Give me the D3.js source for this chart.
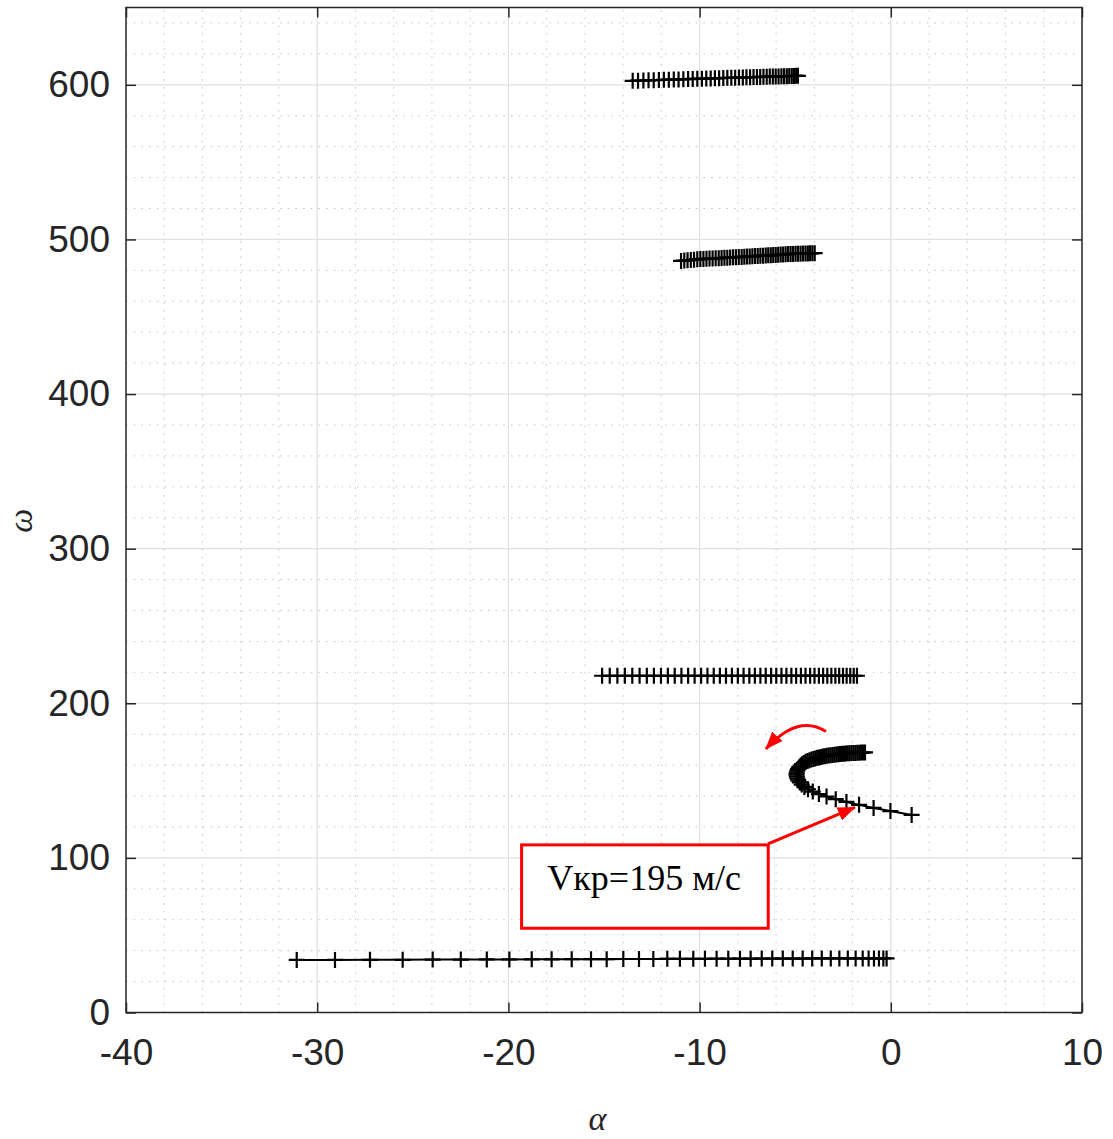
<!DOCTYPE html>
<html>
<head>
<meta charset="utf-8">
<script src="https://cdn.jsdelivr.net/npm/d3@7"></script>
<style>
body { margin: 0; background: #fff; }
</style>
</head>
<body>
<div id="chart"></div>
<script>
// tick labels
const xTicks = [-40, -30, -20, -10, 0, 10];
const yTicks = [0, 100, 200, 300, 400, 500, 600];

// modes: [alpha, omega]
const mode1 = [
    [-13.50, 602.6], [-13.22, 602.7], [-12.94, 602.8], [-12.67, 602.9], [-12.40, 603.0],
    [-12.13, 603.1], [-11.87, 603.2], [-11.61, 603.3], [-11.35, 603.4], [-11.10, 603.5],
    [-10.85, 603.6], [-10.60, 603.7], [-10.36, 603.8], [-10.12, 603.9], [-9.88, 603.95],
    [-9.65, 604.0], [-9.42, 604.1], [-9.20, 604.2], [-8.98, 604.3], [-8.76, 604.4],
    [-8.55, 604.5], [-8.34, 604.55], [-8.14, 604.6], [-7.94, 604.7], [-7.74, 604.8],
    [-7.55, 604.85], [-7.36, 604.9], [-7.18, 605.0], [-7.00, 605.05], [-6.83, 605.1],
    [-6.66, 605.2], [-6.49, 605.25], [-6.33, 605.3], [-6.17, 605.35], [-6.02, 605.4],
    [-5.87, 605.45], [-5.72, 605.5], [-5.58, 605.55], [-5.44, 605.6], [-5.31, 605.65],
    [-5.18, 605.7], [-5.06, 605.75], [-4.95, 605.8], [-4.86, 605.8]
];

const mode2 = [
    [-10.97, 486.1], [-10.80, 486.3], [-10.63, 486.5], [-10.46, 486.7], [-10.29, 486.9],
    [-10.12, 487.1], [-9.96, 487.3], [-9.80, 487.4], [-9.64, 487.5], [-9.48, 487.6],
    [-9.32, 487.7], [-9.16, 487.8], [-9.00, 487.9], [-8.85, 488.0], [-8.70, 488.1],
    [-8.55, 488.2], [-8.40, 488.3], [-8.25, 488.4], [-8.10, 488.5], [-7.95, 488.6],
    [-7.80, 488.7], [-7.66, 488.8], [-7.52, 488.9], [-7.38, 489.0], [-7.24, 489.1],
    [-7.10, 489.2], [-6.96, 489.3], [-6.82, 489.4], [-6.68, 489.5], [-6.54, 489.6],
    [-6.41, 489.7], [-6.28, 489.8], [-6.15, 489.9], [-6.02, 490.0], [-5.89, 490.1],
    [-5.76, 490.2], [-5.63, 490.3], [-5.50, 490.4], [-5.37, 490.5], [-5.24, 490.6],
    [-5.11, 490.65], [-4.98, 490.7], [-4.85, 490.75], [-4.72, 490.8], [-4.59, 490.85],
    [-4.46, 490.9], [-4.34, 490.95], [-4.22, 491.0], [-4.10, 491.05], [-3.98, 491.1]
];

const mode3 = [
    [-15.10, 217.8], [-14.70, 217.8], [-14.30, 217.8], [-13.91, 217.8], [-13.52, 217.8],
    [-13.14, 217.8], [-12.76, 217.8], [-12.39, 217.8], [-12.02, 217.8], [-11.66, 217.8],
    [-11.30, 217.8], [-10.95, 217.8], [-10.60, 217.8], [-10.26, 217.8], [-9.92, 217.8],
    [-9.59, 217.8], [-9.26, 217.8], [-8.94, 217.8], [-8.62, 217.8], [-8.31, 217.8],
    [-8.00, 217.8], [-7.70, 217.8], [-7.40, 217.8], [-7.11, 217.8], [-6.82, 217.8],
    [-6.54, 217.8], [-6.26, 217.8], [-5.99, 217.8], [-5.72, 217.8], [-5.46, 217.8],
    [-5.20, 217.8], [-4.95, 217.8], [-4.70, 217.8], [-4.46, 217.8], [-4.22, 217.8],
    [-3.99, 217.8], [-3.76, 217.8], [-3.54, 217.8], [-3.32, 217.8], [-3.11, 217.8],
    [-2.90, 217.8], [-2.70, 217.8], [-2.50, 217.8], [-2.31, 217.8], [-2.12, 217.8],
    [-1.94, 217.8], [-1.77, 217.8]
];

const mode4 = [
    [-1.35, 168.2], [-1.45, 168.15], [-1.55, 168.1], [-1.65, 168.05], [-1.75, 168.0],
    [-1.85, 167.9], [-1.95, 167.85], [-2.05, 167.8], [-2.15, 167.7], [-2.25, 167.6],
    [-2.35, 167.5], [-2.45, 167.4], [-2.55, 167.3], [-2.65, 167.2], [-2.75, 167.05],
    [-2.85, 166.9], [-2.95, 166.75], [-3.05, 166.6], [-3.15, 166.4], [-3.25, 166.2],
    [-3.35, 166.0], [-3.45, 165.8], [-3.55, 165.55], [-3.65, 165.3], [-3.75, 165.0],
    [-3.85, 164.7], [-3.95, 164.35], [-4.05, 164.0], [-4.15, 163.6], [-4.25, 163.15],
    [-4.35, 162.65], [-4.45, 162.1], [-4.55, 161.4], [-4.64, 160.6], [-4.72, 159.7],
    [-4.79, 158.7], [-4.85, 157.6], [-4.89, 156.4], [-4.92, 155.2], [-4.93, 154.0],
    [-4.92, 152.7], [-4.89, 151.4], [-4.84, 150.1], [-4.76, 148.8], [-4.66, 147.4],
    [-4.52, 145.9], [-4.33, 144.4], [-4.08, 142.9], [-3.76, 141.3], [-3.36, 139.7],
    [-2.88, 138.0], [-2.32, 136.2], [-1.66, 134.3], [-0.90, 132.3], [-0.02, 130.3],
    [1.09, 127.8]
];

const mode5 = [
    [-31.07, 34.0], [-29.07, 34.0], [-27.24, 34.1], [-25.53, 34.1], [-23.96, 34.2],
    [-22.49, 34.2], [-21.13, 34.3], [-19.95, 34.3], [-18.78, 34.4], [-17.74, 34.4],
    [-16.69, 34.5], [-15.68, 34.5], [-14.86, 34.5], [-13.99, 34.6], [-13.17, 34.6],
    [-12.42, 34.6], [-11.69, 34.7], [-11.03, 34.7], [-10.33, 34.7], [-9.72, 34.7],
    [-9.11, 34.8], [-8.50, 34.8], [-7.89, 34.8], [-7.33, 34.8], [-6.75, 34.9],
    [-6.20, 34.9], [-5.65, 34.9], [-5.13, 34.9], [-4.61, 34.9], [-4.11, 35.0],
    [-3.61, 35.0], [-3.14, 35.0], [-2.69, 35.0], [-2.25, 35.0], [-1.84, 35.0],
    [-1.47, 35.0], [-1.16, 35.0], [-0.88, 35.0], [-0.62, 35.0], [-0.39, 35.0],
    [-0.22, 35.0]
];

const modes = [mode1, mode2, mode3, mode4, mode5];

const W = 1113, H = 1139;
const x = d3.scaleLinear().domain([-40, 10]).range([126, 1082]);
const y = d3.scaleLinear().domain([0, 650]).range([1012.5, 7.5]);

const svg = d3.select("#chart")
    .append("svg")
    .attr("width", W)
    .attr("height", H)
    .style("font-family", "'Liberation Sans', Arial, sans-serif");

svg.append("rect").attr("width", W).attr("height", H).attr("fill", "#fff");

// minor grid (dotted)
const xMinor = d3.range(-38, 10, 2).filter(v => v % 10 !== 0);
const yMinor = d3.range(20, 650, 20).filter(v => v % 100 !== 0);

svg.append("g").selectAll("line")
    .data(xMinor)
    .enter()
    .append("line")
    .attr("x1", d => x(d)).attr("x2", d => x(d))
    .attr("y1", y(0)).attr("y2", y(650))
    .attr("stroke", "#c4c4c4")
    .attr("stroke-width", 1)
    .attr("stroke-dasharray", "1.5,6.2");

svg.append("g").selectAll("line")
    .data(yMinor)
    .enter()
    .append("line")
    .attr("x1", x(-40)).attr("x2", x(10))
    .attr("y1", d => y(d)).attr("y2", d => y(d))
    .attr("stroke", "#c4c4c4")
    .attr("stroke-width", 1)
    .attr("stroke-dasharray", "1.5,6.2");

// major grid
svg.append("g").selectAll("line")
    .data(xTicks.slice(1, -1))
    .enter()
    .append("line")
    .attr("x1", d => x(d)).attr("x2", d => x(d))
    .attr("y1", y(0)).attr("y2", y(650))
    .attr("stroke", "#e0e0e0")
    .attr("stroke-width", 1.2);

svg.append("g").selectAll("line")
    .data(yTicks.slice(1))
    .enter()
    .append("line")
    .attr("x1", x(-40)).attr("x2", x(10))
    .attr("y1", d => y(d)).attr("y2", d => y(d))
    .attr("stroke", "#e0e0e0")
    .attr("stroke-width", 1.2);

// data: line + "+" markers
const line = d3.line().x(d => x(d[0])).y(d => y(d[1]));
const plot = svg.append("g");

modes.forEach(m => {
    plot.append("path")
        .datum(m)
        .attr("d", line)
        .attr("fill", "none")
        .attr("stroke", "#000")
        .attr("stroke-width", 2);

    plot.append("g").selectAll("path")
        .data(m)
        .enter()
        .append("path")
        .attr("d", d => {
            const cx = x(d[0]), cy = y(d[1]);
            return `M${cx - 8},${cy}H${cx + 8}M${cx},${cy - 8}V${cy + 8}`;
        })
        .attr("stroke", "#000")
        .attr("stroke-width", 2.2)
        .attr("fill", "none");
});

// annotations
const defs = svg.append("defs");
defs.append("marker")
    .attr("id", "head")
    .attr("markerUnits", "userSpaceOnUse")
    .attr("viewBox", "0 0 18 14")
    .attr("refX", 17)
    .attr("refY", 7)
    .attr("markerWidth", 18)
    .attr("markerHeight", 14)
    .attr("orient", "auto")
    .append("path")
    .attr("d", "M0,0L18,7L0,14Z")
    .attr("fill", "#ff0000");

const ann = svg.append("g");

ann.append("rect")
    .attr("x", x(-19.31))
    .attr("y", y(108.4))
    .attr("width", x(-6.41) - x(-19.31))
    .attr("height", y(54.5) - y(108.4))
    .attr("fill", "#fff")
    .attr("stroke", "#ff0000")
    .attr("stroke-width", 3);

ann.append("text")
    .attr("x", x(-12.9))
    .attr("y", y(79.2))
    .attr("text-anchor", "middle")
    .style("font-family", "'Liberation Serif', 'Times New Roman', serif")
    .style("font-size", "36px")
    .attr("fill", "#000")
    .text("Vкр=195 м/с");

ann.append("line")
    .attr("x1", x(-6.42)).attr("y1", y(109.0))
    .attr("x2", x(-1.88)).attr("y2", y(132.7))
    .attr("stroke", "#ff0000")
    .attr("stroke-width", 3)
    .attr("marker-end", "url(#head)");

ann.append("path")
    .attr("d", `M${x(-3.39)},${y(181.7)}Q${x(-4.85)},${y(193.4)} ${x(-6.53)},${y(170.5)}`)
    .attr("fill", "none")
    .attr("stroke", "#ff0000")
    .attr("stroke-width", 3)
    .attr("marker-end", "url(#head)");

// axes (inward ticks, box)
const axisColor = "#262626";
const fmt = d => String(d);

const gx = svg.append("g")
    .attr("transform", `translate(0,${y(0)})`)
    .call(d3.axisBottom(x).tickValues(xTicks).tickSize(-10).tickPadding(26).tickFormat(fmt));
const gy = svg.append("g")
    .attr("transform", `translate(${x(-40)},0)`)
    .call(d3.axisLeft(y).tickValues(yTicks).tickSize(-10).tickPadding(16).tickFormat(fmt));
const gxt = svg.append("g")
    .attr("transform", `translate(0,${y(650)})`)
    .call(d3.axisTop(x).tickValues(xTicks).tickSize(-10).tickFormat(""));
const gyr = svg.append("g")
    .attr("transform", `translate(${x(10)},0)`)
    .call(d3.axisRight(y).tickValues(yTicks).tickSize(-10).tickFormat(""));

[gx, gy, gxt, gyr].forEach(g => {
    g.select(".domain").remove();
    g.selectAll(".tick line").attr("stroke", axisColor).attr("stroke-width", 1.5);
    g.selectAll("text")
        .attr("fill", axisColor)
        .style("font-family", "'Liberation Sans', Arial, sans-serif")
        .style("font-size", "37px");
});

svg.append("rect")
    .attr("x", x(-40))
    .attr("y", y(650))
    .attr("width", x(10) - x(-40))
    .attr("height", y(0) - y(650))
    .attr("fill", "none")
    .attr("stroke", axisColor)
    .attr("stroke-width", 1.5);

// axis titles
svg.append("text")
    .attr("x", x(-15.35))
    .attr("y", 1130)
    .attr("text-anchor", "middle")
    .style("font-family", "'Liberation Serif', 'Times New Roman', serif")
    .style("font-style", "italic")
    .style("font-size", "34px")
    .attr("fill", axisColor)
    .text("α");

svg.append("text")
    .attr("transform", `translate(32,${y(318)}) rotate(-90)`)
    .attr("text-anchor", "middle")
    .style("font-family", "'Liberation Serif', 'Times New Roman', serif")
    .style("font-style", "italic")
    .style("font-size", "34px")
    .attr("fill", axisColor)
    .text("ω");
</script>
</body>
</html>
